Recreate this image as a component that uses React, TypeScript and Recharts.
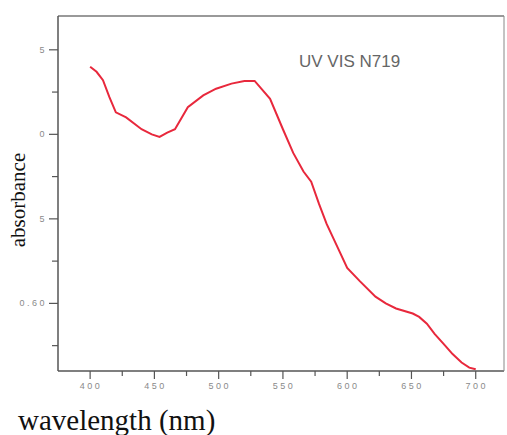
import React from "react";
import { LineChart, Line, XAxis, YAxis } from "recharts";

// Wavelength (nm) and measured absorbance of the N719 dye
const wavelengths = [400, 405, 410, 415, 420, 428, 440, 448, 454, 460, 466, 476, 488, 498, 510, 520, 528, 540, 550, 558, 566, 572, 578, 584, 592, 600, 610, 622, 630, 638, 651, 656, 662, 668, 675, 682, 689, 695, 700];
const absorbance = [0.740, 0.737, 0.732, 0.722, 0.713, 0.710, 0.703, 0.700, 0.6985, 0.701, 0.703, 0.716, 0.723, 0.727, 0.730, 0.7315, 0.7316, 0.721, 0.703, 0.689, 0.678, 0.672, 0.659, 0.647, 0.634, 0.621, 0.613, 0.604, 0.600, 0.597, 0.594, 0.592, 0.588, 0.582, 0.576, 0.570, 0.565, 0.562, 0.561];

const xTicks = [400, 425, 450, 475, 500, 525, 550, 575, 600, 625, 650, 675, 700];
const xMajor = [400, 450, 500, 550, 600, 650, 700];
const yTicks = [0.575, 0.6, 0.625, 0.65, 0.675, 0.7, 0.725, 0.75];
// Labels printed on the absorbance axis
const yLabels: Record<string, string> = { "0.6": "0.60", "0.65": "5", "0.7": "0", "0.75": "5" };

const data = wavelengths.map((w, i) => ({ w, a: absorbance[i] }));

const axisColor = "#555";
const tickText = "#8a8a8a";
const tickFont = "Liberation Sans, Arial, sans-serif";

const XTick = (props: any) => {
  const { x, y, payload } = props;
  const major = xMajor.includes(payload.value);
  return (
    <g>
      <line x1={x} y1={y} x2={x} y2={y + (major ? 8 : 5)} stroke={axisColor} strokeWidth={1.2} />
      {major && (
        <text x={x + 1} y={y + 18} textAnchor="middle" fontSize={9} letterSpacing={2.5} fill={tickText} fontFamily={tickFont}>
          {payload.value}
        </text>
      )}
    </g>
  );
};

const YTick = (props: any) => {
  const { x, y, payload } = props;
  const key = String(Math.round(payload.value * 1000) / 1000);
  const label = yLabels[key];
  return (
    <g>
      <line x1={x} y1={y} x2={x - (label ? 9 : 6)} y2={y} stroke={axisColor} strokeWidth={1.2} />
      {label && (
        <text x={x - 11} y={y + 3} textAnchor="end" fontSize={9} letterSpacing={2.5} fill={tickText} fontFamily={tickFont}>
          {label}
        </text>
      )}
    </g>
  );
};

export default function App() {
  return (
    <div style={{ position: "absolute", left: 0, top: 0, width: 507, height: 435, background: "#fff" }}>
      <LineChart width={507} height={435} data={data} margin={{ top: 0, right: 0, bottom: 0, left: 0 }}>
        <XAxis
          xAxisId="b"
          dataKey="w"
          type="number"
          domain={[375, 722]}
          ticks={xTicks}
          height={64}
          tickSize={0}
          tickMargin={0}
          tickLine={false}
          tick={<XTick />}
          stroke={axisColor}
          strokeWidth={1.5}
          interval={0}
          allowDataOverflow
        />
        <XAxis
          xAxisId="t"
          orientation="top"
          dataKey="w"
          type="number"
          domain={[375, 722]}
          height={16}
          tick={false}
          tickLine={false}
          stroke="#777"
          strokeWidth={1.5}
          allowDataOverflow
        />
        <YAxis
          yAxisId="l"
          type="number"
          domain={[0.56, 0.77]}
          ticks={yTicks}
          width={58}
          tickSize={0}
          tickMargin={0}
          tickLine={false}
          tick={<YTick />}
          stroke={axisColor}
          strokeWidth={1.5}
          interval={0}
          allowDataOverflow
        />
        <YAxis
          yAxisId="r"
          orientation="right"
          type="number"
          domain={[0.56, 0.77]}
          width={3}
          tick={false}
          tickLine={false}
          stroke="#888"
          strokeWidth={1}
          allowDataOverflow
        />
        <Line xAxisId="b" yAxisId="l" dataKey="a" type="linear" stroke="#e8283c" strokeWidth={2} dot={false} isAnimationActive={false} />
      </LineChart>
      <div style={{ position: "absolute", left: 299, top: 52, fontFamily: tickFont, fontSize: 17, color: "#666", whiteSpace: "nowrap" }}>
        UV VIS N719
      </div>
      <div style={{ position: "absolute", left: 18, top: 404, fontFamily: "Liberation Serif, 'Times New Roman', serif", fontSize: 29, color: "#111", whiteSpace: "nowrap" }}>
        wavelength (nm)
      </div>
      <div
        style={{
          position: "absolute",
          left: 18,
          top: 200,
          transform: "translate(-50%, -50%) rotate(-90deg)",
          fontFamily: "Liberation Serif, 'Times New Roman', serif",
          fontSize: 21,
          color: "#111",
          whiteSpace: "nowrap",
        }}
      >
        absorbance
      </div>
    </div>
  );
}
